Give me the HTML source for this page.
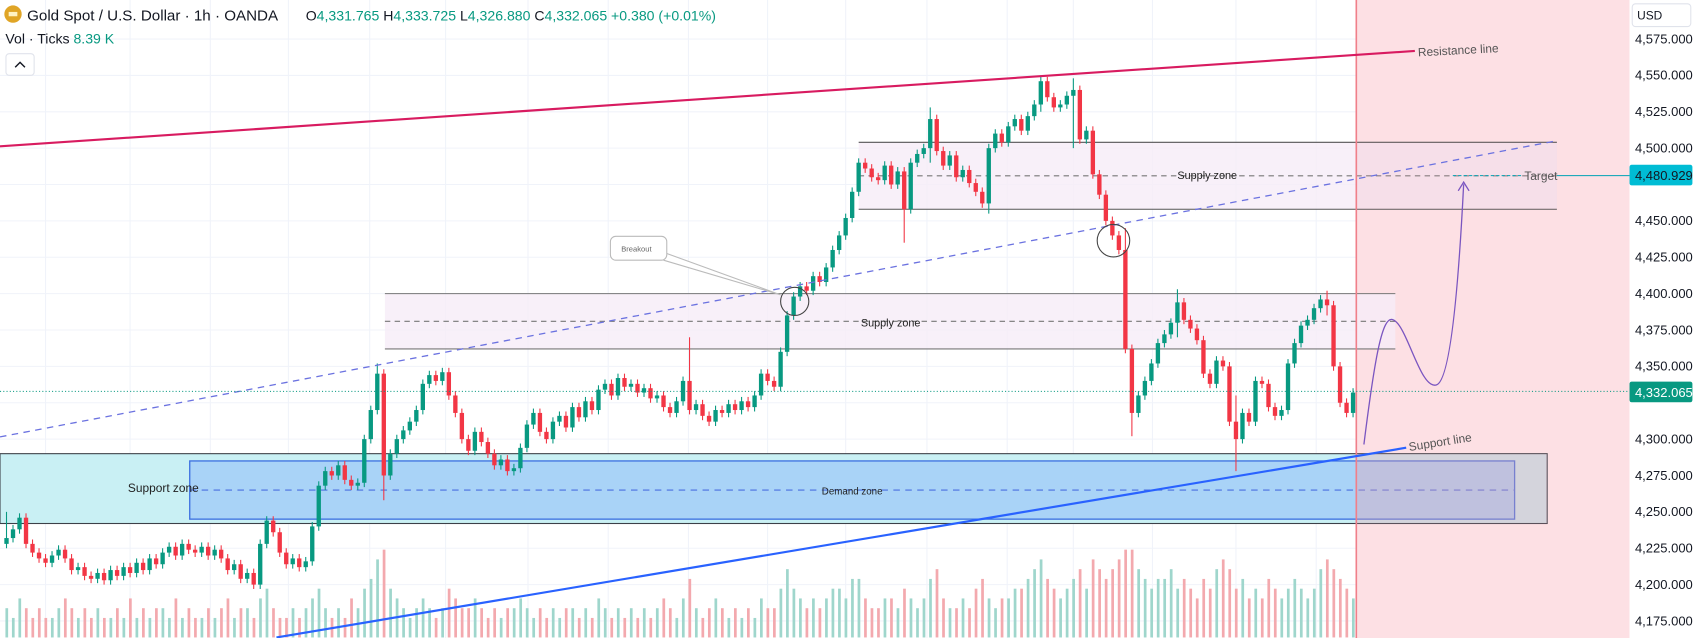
<!DOCTYPE html>
<html><head><meta charset="utf-8">
<style>
html,body{margin:0;padding:0;background:#fff;overflow:hidden;}
svg{display:block;font-family:"Liberation Sans",sans-serif;}
</style></head>
<body>
<svg id="chart" width="1700" height="638" viewBox="0 0 1568 588.5" preserveAspectRatio="none">
<rect x="0" y="0" width="1568" height="590" fill="#fff"/>
<g id="grid"></g>
<rect x="1251" y="0" width="252" height="590" fill="#fde0e4"/>
<g id="zones"></g>
<g id="vol"></g>
<g id="candles"></g>
<g id="draw"></g>
<g id="axis"></g>
<g id="header">
  <circle cx="12" cy="13" r="8" fill="#e0a526"/>
  <rect x="8" y="11" width="8" height="4" fill="#fff3c4"/>
  <text x="25" y="19" font-size="14" fill="#131722">Gold Spot / U.S. Dollar · 1h · OANDA</text>
  <text x="282" y="19" font-size="13" fill="#131722">O<tspan fill="#089981">4,331.765 </tspan>H<tspan fill="#089981">4,333.725 </tspan>L<tspan fill="#089981">4,326.880 </tspan>C<tspan fill="#089981">4,332.065 +0.380 (+0.01%)</tspan></text>
  <text x="5" y="40" font-size="13" fill="#131722">Vol · Ticks <tspan fill="#089981">8.39 K</tspan></text>
  <rect x="5.5" y="49.5" width="26" height="20" rx="3" fill="#fff" stroke="#e0e3eb"/>
  <path d="M14 62 L18.5 57.5 L23 62" fill="none" stroke="#131722" stroke-width="1.3"/>
</g>
</svg>
<script>
const NS='http://www.w3.org/2000/svg';
const priceTicks=[4575,4550,4525,4500,4475,4450,4425,4400,4375,4350,4325,4300,4275,4250,4225,4200,4175];
const tickLabels=['4,575.000','4,550.000','4,525.000','4,500.000','4,475.000','4,450.000','4,425.000','4,400.000','4,375.000','4,350.000','4,325.000','4,300.000','4,275.000','4,250.000','4,225.000','4,200.000','4,175.000'];
const gridX=[42,120,194,266,341,411,487,561,635,708,780,855,929,990,1063,1140,1214,1290,1365,1440];
const closes=[4232,4238,4246,4228,4222,4218,4215,4220,
4224,4218,4210,4212,4206,4204,4208,4203,
4210,4206,4212,4208,4215,4210,4218,4214,
4222,4226,4220,4228,4224,4222,4226,4220,
4224,4218,4210,4214,4204,4208,4200,4228,
4244,4236,4222,4214,4218,4212,4216,4240,
4268,4278,4275,4282,4272,4268,4270,4300,
4320,4345,4275,4290,4300,4306,4312,4320,
4338,4344,4340,4346,4330,4318,4300,4292,
4305,4298,4290,4282,4286,4278,4280,4294,
4310,4318,4305,4300,4312,4316,4308,4322,
4315,4326,4320,4334,4338,4330,4342,4336,
4338,4332,4335,4328,4330,4322,4318,4326,
4340,4320,4324,4316,4312,4320,4318,4324,
4320,4326,4322,4330,4345,4340,4336,4360,
4385,4398,4405,4402,4412,4408,4418,4430,
4440,4452,4470,4490,4486,4480,4478,4488,
4475,4484,4458,4490,4496,4500,4520,4498,
4488,4495,4480,4485,4476,4470,4462,4500,
4510,4504,4515,4520,4512,4522,4530,4546,
4535,4528,4530,4536,4540,4506,4512,4482,
4468,4450,4440,4430,4362,4318,4330,4340,
4352,4366,4372,4380,4394,4382,4376,4368,
4345,4338,4354,4350,4312,4300,4318,4312,
4340,4338,4322,4316,4320,4352,4366,4378,
4382,4390,4396,4392,4350,4325,4318,4332];
const spikeIdx=[0,57,58,105,138,142,151,159,164,172,173,180,189,203];
const spikeHigh=[4250,4352,4330,4370,4478,4528,4480,4550,4548,4445,4365,4403,4330,4402];
const spikeLow=[4225,4320,4258,4325,4435,4490,4455,4525,4500,4418,4302,4370,4278,4385];
const volumes=[3,2,4,3,2,3,2,2,3,4,3,2,3,2,3,2,2,3,2,4,2,3,2,3,3,2,4,2,3,2,2,3,
2,3,4,2,3,3,2,4,5,3,2,2,3,2,3,4,5,3,2,3,2,4,3,5,6,8,9,5,4,3,2,3,
4,3,2,3,5,4,3,3,4,3,2,3,2,3,3,4,3,2,3,2,3,2,3,3,2,3,2,4,3,2,3,2,
3,2,3,2,3,4,3,2,4,6,3,2,3,4,3,2,3,2,3,2,4,3,3,5,7,5,4,3,4,3,4,5,
5,4,6,6,4,3,3,4,4,3,5,4,3,4,6,7,4,3,3,4,3,5,6,4,3,4,4,5,5,6,7,8,
6,5,4,5,6,7,5,8,7,6,7,8,9,9,7,6,5,6,6,7,5,6,5,4,6,5,7,8,7,5,6,4,
5,4,6,5,4,5,6,5,4,5,7,8,7,6,5,4];
const PX=(p)=>36+(4575-p)*1.342;
const XI=(i)=>1248-6*(closes.length-1-i);
function mk(tag,attrs,parent){const e=document.createElementNS(NS,tag);for(const k in attrs)e.setAttribute(k,attrs[k]);parent.appendChild(e);return e;}
const grid=document.getElementById('grid');
priceTicks.forEach((p,i)=>{const l=mk('line',{x1:0,x2:1503,y1:PX(p),y2:PX(p),stroke:'#f0f3fa'},grid);

});
gridX.forEach(x=>{const l=mk('line',{x1:x,x2:x,y1:0,y2:590,stroke:'#f0f3fa'},grid);

});
const Z=document.getElementById('zones');
let e;
e=mk('rect',{x:0,y:PX(4290),width:1427,height:PX(4242)-PX(4290),fill:'#c9f0f4',stroke:'#3c4048','stroke-width':1},Z);


e=mk('rect',{x:175,y:PX(4285),width:1222,height:PX(4245)-PX(4285),fill:'#a9d3f7',stroke:'#3b6fe0','stroke-width':1.2},Z);


e=mk('line',{x1:175,x2:1397,y1:PX(4265),y2:PX(4265),stroke:'#4a6fe0','stroke-dasharray':'6 5'},Z);


e=mk('rect',{x:792,y:PX(4504),width:644,height:PX(4458)-PX(4504),fill:'#f6ecf8',opacity:0.8},Z);


e=mk('rect',{x:355,y:PX(4400),width:932,height:PX(4362)-PX(4400),fill:'#f6ecf8',opacity:0.8},Z);


[[792,1436,4504,'#555'],[792,1436,4458,'#555'],[355,1287,4400,'#777'],[355,1287,4362,'#777']].forEach(a=>{
e=mk('line',{x1:a[0],x2:a[1],y1:PX(a[2]),y2:PX(a[2]),stroke:a[3]},Z);

});
[[792,1436,4481],[355,1287,4381]].forEach(a=>{
e=mk('line',{x1:a[0],x2:a[1],y1:PX(a[2]),y2:PX(a[2]),stroke:'#777','stroke-dasharray':'5 4'},Z);

});
e=mk('rect',{x:1251,y:PX(4290),width:176,height:PX(4242)-PX(4290),fill:'#e8a0b0',opacity:0.35},Z);


e=mk('rect',{x:1251,y:PX(4504),width:185,height:PX(4458)-PX(4504),fill:'#e8a0b0',opacity:0.15},Z);


const V=document.getElementById('vol');
volumes.forEach((v,i)=>{const o=i>0?closes[i-1]:closes[i];const up=closes[i]>=o;const h=v*9;
const r=mk('rect',{x:XI(i)-1,y:588-h,width:2.5,height:h,fill:up?'#9fd6cc':'#f3a9ae'},V);

});
const C=document.getElementById('candles');
closes.forEach((c,i)=>{const o=i>0?closes[i-1]:closes[i]-4;const up=c>=o;const col=up?'#089981':'#f23645';
let hi=Math.max(o,c)+3,lo=Math.min(o,c)-3;const s=spikeIdx.indexOf(i);
if(s>=0){hi=Math.max(hi,spikeHigh[s]);lo=Math.min(lo,spikeLow[s]);}
const x=XI(i);
const w=mk('line',{x1:x,x2:x,y1:PX(hi),y2:PX(lo),stroke:col,'stroke-width':1},C);


const y1=PX(Math.max(o,c)),y2=PX(Math.min(o,c));
const b=mk('rect',{x:x-2,y:y1,width:4,height:Math.max(1,y2-y1),fill:col},C);

});
const A=document.getElementById('axis');
e=mk('rect',{x:1503,y:0,width:70,height:590,fill:'#fff'},A);


priceTicks.forEach((p,i)=>{if(p===4475||p===4325)return;const t=mk('text',{x:1508,y:PX(p)+4,'font-size':12,fill:'#131722'},A);t.textContent=tickLabels[i];

});
</script>
<svg width="1700" height="638" viewBox="0 0 1568 588.5" preserveAspectRatio="none" style="position:absolute;left:0;top:0">
<g font-family="Liberation Sans, sans-serif">
<line x1="1251" y1="0" x2="1251" y2="590" stroke="#f07f8a" stroke-width="1.5"/>
<line x1="0" y1="135" x2="1305" y2="47" stroke="#d81b60" stroke-width="2"/>
<text x="1308" y="52" font-size="11" fill="#555" transform="rotate(-3 1308 52)">Resistance line</text>
<line x1="0" y1="403" x2="1435" y2="130" stroke="#6b72e0" stroke-width="1.2" stroke-dasharray="6 5"/>
<line x1="255" y1="588" x2="1297" y2="413" stroke="#2962ff" stroke-width="2"/>
<text x="1300" y="416" font-size="11" fill="#555" transform="rotate(-9 1300 416)">Support line</text>
<text x="1086" y="165" font-size="10" fill="#222">Supply zone</text>
<text x="794" y="301" font-size="10" fill="#222">Supply zone</text>
<text x="118" y="454" font-size="11" fill="#222">Support zone</text>
<text x="758" y="456" font-size="9" fill="#222">Demand zone</text>
<circle cx="733" cy="278" r="13" fill="none" stroke="#444"/>
<circle cx="1027" cy="222" r="15" fill="none" stroke="#444"/>
<path d="M610 232 L720 272 L612 240" fill="#fff" stroke="#bbb"/>
<rect x="563" y="218" width="52" height="22" rx="5" fill="#fff" stroke="#bbb"/>
<text x="573" y="232" font-size="7" fill="#666">Breakout</text>
<line x1="1340" y1="162" x2="1405" y2="162" stroke="#00a3b4" stroke-dasharray="3 2"/>
<text x="1406" y="166" font-size="11" fill="#555">Target</text>
<line x1="1436" y1="162" x2="1503" y2="162" stroke="#00a3b4"/>
<path d="M1258 410 C1268 330 1275 290 1285 295 C1298 300 1310 360 1325 355 C1340 350 1347 230 1350 170" fill="none" stroke="#7a55c0" stroke-width="1.2"/>
<path d="M1345 176 L1350 168 L1355 176" fill="none" stroke="#7a55c0" stroke-width="1.2"/>
<line x1="0" y1="361" x2="1503" y2="361" stroke="#089981" stroke-dasharray="1 2"/>
<rect x="1505.5" y="3.5" width="54" height="21" rx="3" fill="#fff" stroke="#e0e3eb"/>
<text x="1510" y="18" font-size="11" fill="#131722">USD</text>
<rect x="1503" y="152" width="58" height="19" rx="2" fill="#00bcd4"/>
<text x="1508" y="166" font-size="12" fill="#131722">4,480.929</text>
<rect x="1503" y="352" width="58" height="19" rx="2" fill="#089981"/>
<text x="1508" y="366" font-size="12" fill="#fff">4,332.065</text>
</g>
</svg>
</body></html>
